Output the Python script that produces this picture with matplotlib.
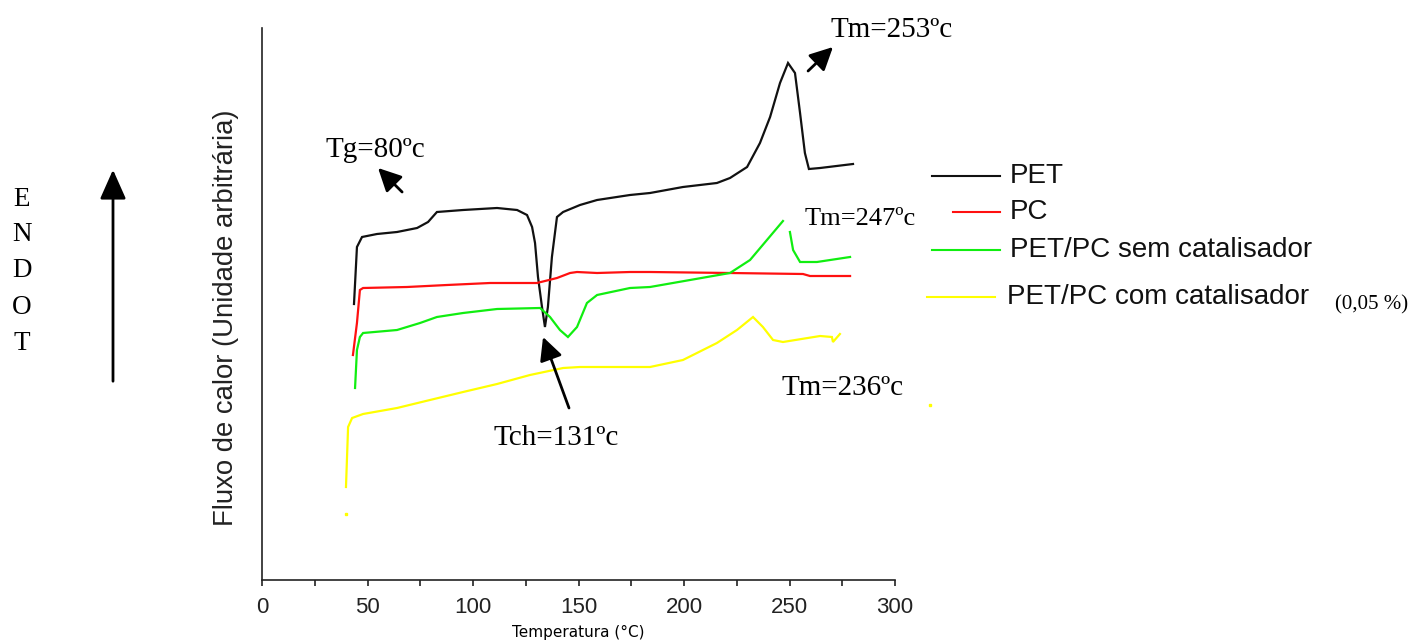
import numpy as np
import matplotlib
matplotlib.use("Agg")
import matplotlib.pyplot as plt

# DSC curves, heat flow in arbitrary units
pet_T = [43.6, 45.0, 47.4, 54.5, 64.0, 73.5, 78.7, 82.9, 95.3, 111.4, 120.9, 125.6,
         128.0, 129.4, 130.8, 132.7, 134.1, 135.5, 137.4, 139.8, 142.7, 150.7, 158.8,
         174.4, 183.9, 199.5, 215.6, 221.8, 229.9, 236.0, 240.8, 245.5, 249.3, 252.6,
         255.0, 257.3, 259.2, 264.5, 280.1]
pet_q = [276, 333, 343, 346, 348, 352, 358, 368, 370, 372, 370, 365,
         353, 337, 303, 273, 253, 273, 323, 363, 368, 375, 380,
         385, 387, 393, 397, 402, 413, 437, 463, 497, 517, 507,
         467, 427, 411, 412, 416]

pc_T = [43.1, 45.0, 46.4, 47.9, 68.7, 87.7, 108.1, 130.3, 139.8, 146.0, 149.3,
        158.8, 174.4, 183.9, 221.8, 256.4, 259.7, 278.7]
pc_q = [225, 257, 290, 292, 293, 295, 297, 297, 302, 307, 308,
        307, 308, 308, 307, 306, 304, 304]

# blend without catalyst (gap in the record near the melting peak)
sem_T = [44.1, 45.0, 46.4, 47.9, 64.0, 74.9, 82.9, 95.3, 111.4, 131.8, 136.5, 141.2,
         145.0, 149.3, 154.0, 158.8, 174.4, 183.9, 221.8, 231.3, 239.3, 244.1, 246.9,
         np.nan, 250.2, 251.7, 255.0, 263.0, 278.7]
sem_q = [192, 230, 243, 247, 250, 257, 263, 267, 271, 272, 263, 250,
         243, 253, 277, 285, 292, 293, 307, 320, 340, 352, 359,
         np.nan, 348, 330, 318, 318, 323]

com_T = [39.8, 40.8, 42.7, 47.9, 64.0, 79.6, 95.3, 111.4, 127.0, 142.7, 150.7, 169.7,
         183.9, 199.5, 215.6, 225.1, 232.7, 237.4, 242.2, 246.9, 264.5, 270.1, 270.6, 273.9]
com_q = [93, 153, 162, 166, 172, 180, 188, 196, 205, 212, 213, 213,
         213, 220, 237, 250, 263, 253, 240, 238, 244, 243, 238, 246]
com_stray_T = [39.8, 316.6]
com_stray_q = [66, 175]

labels = ["PET", "PC", "PET/PC sem catalisador", "PET/PC com catalisador"]
colors = ["#111111", "#ff1010", "#10ee10", "#ffff00"]

W, H = 1419, 643
fig = plt.figure(figsize=(W / 100, H / 100), dpi=100)
ax = fig.add_axes([262 / W, 1 - 580 / H, (895 - 262) / W, (580 - 28) / H])

series = [(pet_T, pet_q), (pc_T, pc_q), (sem_T, sem_q), (com_T, com_q)]
for (t, q), c in zip(series, colors):
    ax.plot(t, q, color=c, lw=1.6, solid_joinstyle="miter")
ax.plot(com_stray_T, com_stray_q, ls="none", marker="s", ms=2, color=colors[3],
        clip_on=False)

ax.set_xlim(0, 300)
ax.set_ylim(0, 552)
for s in ["top", "right"]:
    ax.spines[s].set_visible(False)
for s in ["left", "bottom"]:
    ax.spines[s].set_linewidth(1.2)
    ax.spines[s].set_color("#222222")
ax.set_yticks([])
ax.set_xticks(np.arange(0, 301, 50))
ax.set_xticks(np.arange(25, 300, 50), minor=True)
ax.tick_params(axis="x", which="both", direction="out", length=4, width=1.2,
               colors="#222222", pad=8, labelsize=16,
               labelfontfamily="Liberation Sans")
ax.set_xlabel("Temperatura (°C)", fontsize=11, family="DejaVu Sans", labelpad=5)
ax.set_ylabel("Fluxo de calor (Unidade arbitrária)", fontsize=19.8,
              family="Liberation Sans", color="#222222")
ax.yaxis.set_label_coords(-0.036, 0.475)

serif = "Liberation Serif"
arrow = dict(arrowstyle="-|>,head_length=0.7,head_width=0.35", color="black",
             lw=2, mutation_scale=20, shrinkA=0, shrinkB=0)

# peak / transition annotations
ax.text(29.9, 423, "Tg=80ºc", fontsize=21, family=serif)
ax.annotate("", xy=(55.0, 412), xytext=(66.4, 388), arrowprops=arrow)
ax.text(269.2, 543, "Tm=253ºc", fontsize=21, family=serif, clip_on=False)
ax.annotate("", xy=(270.6, 533), xytext=(258.8, 509), arrowprops=arrow,
            annotation_clip=False)
ax.text(257.3, 355, "Tm=247ºc", fontsize=19, family=serif, clip_on=False)
ax.text(246.4, 185, "Tm=236ºc", fontsize=21, family=serif, clip_on=False)
ax.text(109.5, 135, "Tch=131ºc", fontsize=21, family=serif)
ax.annotate("", xy=(133.2, 243), xytext=(145.5, 172), arrowprops=arrow)

# legend drawn by hand to the right of the axes
leg_y = [176, 212, 250, 297]
leg_x0 = [932, 953, 932, 927]
leg_x1 = [1000, 1000, 1000, 995]
leg_tx = [1010, 1010, 1010, 1007]
for lab, c, y, x0, x1, tx in zip(labels, colors, leg_y, leg_x0, leg_x1, leg_tx):
    fig.add_artist(plt.Line2D([x0 / W, x1 / W], [1 - y / H, 1 - y / H],
                              color=c, lw=1.5))
    fig.text(tx / W, 1 - y / H, lab, fontsize=20, family="Liberation Sans",
             va="center", ha="left", color="#111111")
fig.text(1335 / W, 1 - 305 / H, "(0,05 %)", fontsize=15, family=serif,
         va="center", ha="left")

# endothermic direction
for i, ch in enumerate("ENDOT"):
    fig.text(22 / W, 1 - (199 + 36 * i) / H, ch, fontsize=19.5, family=serif,
             ha="center", va="center")
fig.add_artist(matplotlib.patches.FancyArrowPatch(
    (113 / W, 1 - 384 / H), (113 / W, 1 - 167 / H), transform=fig.transFigure,
    arrowstyle="-|>,head_length=0.9,head_width=0.4", mutation_scale=20,
    color="black", lw=2))

fig.savefig("out.png", dpi=100)
